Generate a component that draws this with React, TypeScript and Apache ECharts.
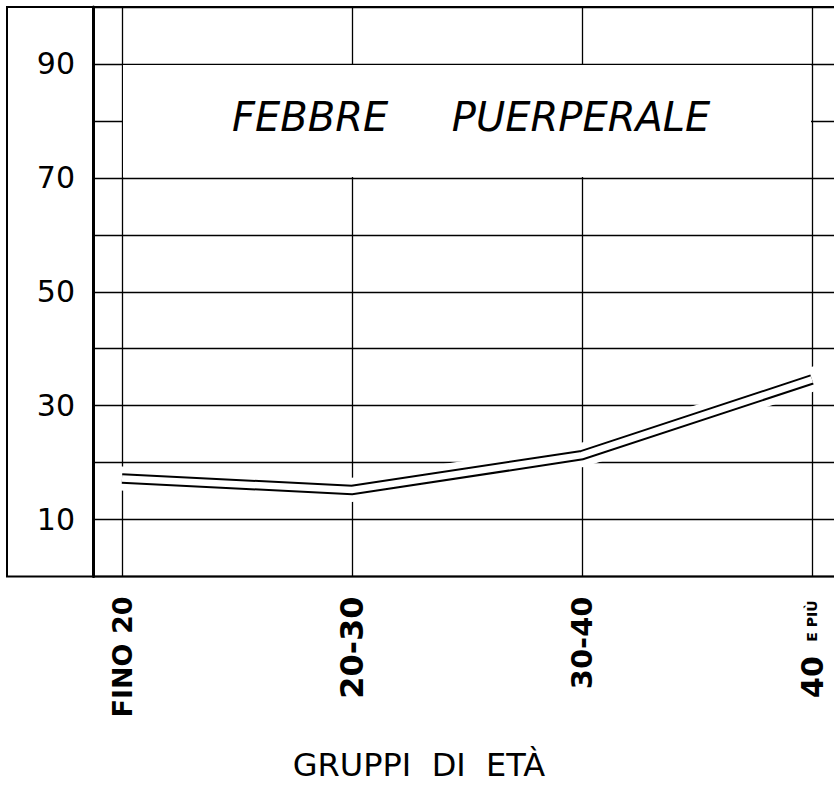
import React, { useEffect, useRef } from 'react';
import * as echarts from 'echarts';

// ---- data ----
const categories = ['FINO 20', '20-30', '30-40', '40 E PIÙ'];
const rates = [17.2, 15.2, 21.3, 34.6];
const yTickLabels = [10, 30, 50, 70, 90];
const chartTitle = 'FEBBRE     PUERPERALE';
const xAxisName = 'GRUPPI  DI  ETÀ';

const FONT = "'DejaVu Sans', 'Liberation Sans', sans-serif";
const labelKeys = ['a', 'b', 'c', 'd'];

export default function App() {
  const ref = useRef<HTMLDivElement>(null);

  useEffect(() => {
    if (!ref.current) return;
    const chart = echarts.init(ref.current, null, { renderer: 'svg' });

    const lineBase = {
      type: 'line',
      xAxisIndex: 1,
      yAxisIndex: 1,
      data: rates,
      showSymbol: false,
      symbol: 'none',
      silent: true,
    };

    chart.setOption({
      animation: false,
      backgroundColor: '#ffffff',
      title: {
        text: chartTitle,
        left: 232,
        top: 97,
        padding: 0,
        z: 6,
        textStyle: {
          fontFamily: FONT,
          fontStyle: 'italic',
          fontWeight: 'normal',
          fontSize: 40,
          color: '#000',
        },
      },
      grid: [
        { left: 93, right: 0, top: 7, bottom: 211.5 },
        { left: 122, right: 22, top: 7, bottom: 211.5 },
      ],
      xAxis: [
        { gridIndex: 0, type: 'value', min: 0, max: 1, show: false },
        {
          gridIndex: 1,
          type: 'category',
          data: categories,
          boundaryGap: false,
          axisLine: { show: false },
          axisTick: { show: false },
          splitLine: { show: true, interval: 0, lineStyle: { color: '#000', width: 1.3 } },
          axisLabel: {
            interval: 0,
            rotate: 90,
            margin: 20,
            color: '#000',
            formatter: (value: string, index: number) => {
              if (index === 3) {
                const parts = value.split(' ');
                return `{d|${parts[0]} }{e|${parts.slice(1).join(' ')}}`;
              }
              return `{${labelKeys[index]}|${value}}`;
            },
            rich: {
              a: { fontFamily: FONT, fontWeight: 'bold', fontSize: 27, color: '#000' },
              b: { fontFamily: FONT, fontWeight: 'bold', fontSize: 32, color: '#000' },
              c: { fontFamily: FONT, fontWeight: 'bold', fontSize: 29, color: '#000' },
              d: { fontFamily: FONT, fontWeight: 'bold', fontSize: 30, color: '#000' },
              e: {
                fontFamily: FONT,
                fontWeight: 'bold',
                fontSize: 14,
                color: '#000',
                verticalAlign: 'middle',
                padding: [0, 4, 0, 4],
              },
            },
          },
          name: xAxisName,
          nameLocation: 'middle',
          nameGap: 172,
          nameTextStyle: {
            fontFamily: FONT,
            fontSize: 32,
            color: '#000',
            padding: [0, 96, 0, 0],
          },
        },
      ],
      yAxis: [
        {
          gridIndex: 0,
          type: 'value',
          min: 0,
          max: 100,
          interval: 10,
          axisLine: { show: true, lineStyle: { color: '#000', width: 3 } },
          axisTick: { show: false },
          axisLabel: {
            margin: 18,
            fontFamily: FONT,
            fontSize: 30,
            color: '#000',
            formatter: (v: number) => (yTickLabels.includes(v) ? String(v) : ''),
          },
          splitLine: { show: true, lineStyle: { color: '#000', width: 1.3 } },
        },
        { gridIndex: 1, type: 'value', min: 0, max: 100, show: false, splitLine: { show: false } },
      ],
      graphic: [
        {
          type: 'rect',
          z: 5,
          silent: true,
          shape: { x: 123, y: 65, width: 688, height: 112 },
          style: { fill: '#ffffff' },
        },
        {
          type: 'rect',
          z: 20,
          silent: true,
          shape: { x: 7, y: 7, width: 840, height: 569.5 },
          style: { fill: 'none', stroke: '#000', lineWidth: 2 },
        },
      ],
      series: [
        { ...lineBase, name: 'halo', z: 2, lineStyle: { color: '#ffffff', width: 24, cap: 'square', join: 'round' } },
        { ...lineBase, name: 'Febbre puerperale', z: 3, lineStyle: { color: '#000', width: 10.5, cap: 'butt', join: 'miter' } },
        { ...lineBase, name: 'inner', z: 4, lineStyle: { color: '#ffffff', width: 6.5, cap: 'butt', join: 'miter' } },
      ],
    });

    return () => chart.dispose();
  }, []);

  return (
    <div
      ref={ref}
      style={{ position: 'fixed', left: 0, top: 0, width: 834, height: 788, background: '#fff' }}
    />
  );
}
